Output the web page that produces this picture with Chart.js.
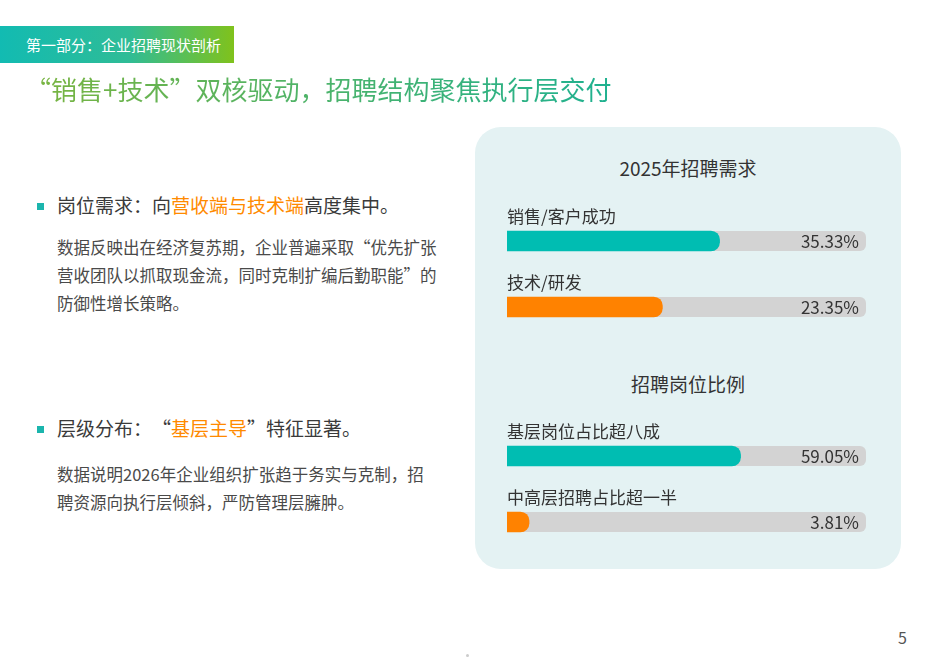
<!DOCTYPE html>
<html lang="zh-CN">
<head>
<meta charset="utf-8">
<script src="https://cdn.jsdelivr.net/npm/chart.js@4.4.1/dist/chart.umd.min.js"></script>
<style>
  html, body { margin: 0; padding: 0; background: #ffffff; }
  body { width: 936px; height: 662px; position: relative; overflow: hidden;
         font-family: "Noto Sans CJK SC", "Noto Sans", sans-serif; color: #333;
         text-spacing-trim: space-all; }
  .tag { position: absolute; left: 0; top: 26px; width: 234px; height: 37px;
         background: linear-gradient(90deg, #12bbb2 0%, #2fbc96 55%, #80c21c 100%);
         color: #fff; font-size: 15px; line-height: 37px; padding-left: 26px; box-sizing: border-box; white-space: nowrap; }
  .title { position: absolute; left: 25px; top: 70px; font-size: 26px; line-height: 38px; white-space: nowrap;
           background: linear-gradient(90deg, #7ab43f 0%, #4db36a 50%, #1fb190 100%);
           -webkit-background-clip: text; background-clip: text; color: transparent; }
  .bullet { position: absolute; left: 37px; width: 7px; height: 7px; background: #1bb5ad; }
  .head { position: absolute; left: 57px; font-size: 19px; line-height: 26px; color: #3a3a3a; white-space: nowrap; }
  .hl { color: #ff8a00; }
  .para { position: absolute; left: 57px; font-size: 16.5px; line-height: 28px; color: #4a4a4a; white-space: nowrap; }
  .panel { position: absolute; left: 475px; top: 127px; width: 426px; height: 442px;
           background: #e4f2f3; border-radius: 26px; }
  .ctitle { position: absolute; left: 0; width: 426px; text-align: center; font-size: 19px; line-height: 26px; color: #333; }
  canvas.c { position: absolute; left: 0; }
  .page { position: absolute; left: 898px; top: 625px; font-size: 16px; color: #555; }
  .dot { position: absolute; left: 466px; top: 654px; width: 3px; height: 3px; border-radius: 2px; background: #ccc; }
</style>
</head>
<body>
<div class="tag">第一部分：企业招聘现状剖析</div>
<div class="title">“销售+技术”双核驱动，招聘结构聚焦执行层交付</div>

<div class="bullet" style="top:203px"></div>
<div class="head" style="top:192px">岗位需求：向<span class="hl">营收端与技术端</span>高度集中。</div>
<div class="para" style="top:233px">数据反映出在经济复苏期，企业普遍采取“优先扩张<br>营收团队以抓取现金流，同时克制扩编后勤职能”的<br>防御性增长策略。</div>

<div class="bullet" style="top:426px"></div>
<div class="head" style="top:415px">层级分布：“<span class="hl">基层主导</span>”特征显著。</div>
<div class="para" style="top:460px">数据说明2026年企业组织扩张趋于务实与克制，招<br>聘资源向执行层倾斜，严防管理层臃肿。</div>

<div class="panel">
  <div class="ctitle" style="top:28px">2025年招聘需求</div>
  <canvas class="c" id="c1" width="426" height="150" style="top:73px;width:426px;height:150px"></canvas>
  <div class="ctitle" style="top:244px">招聘岗位比例</div>
  <canvas class="c" id="c2" width="426" height="150" style="top:288px;width:426px;height:150px"></canvas>
</div>

<div class="page">5</div>
<div class="dot"></div>

<script>
// ---- data ----
const demandCategories = ["销售/客户成功", "技术/研发"];
const demandValues = [35.33, 23.35];
const levelCategories = ["基层岗位占比超八成", "中高层招聘占比超一半"];
const levelValues = [59.05, 3.81];
const barColors = ["#00bdb2", "#ff8200"];

// axis ranges matching the reference's bar lengths
const demandAxis = { min: -9.2, max: 66 };
const levelAxis = { min: -1.95, max: 91.8 };

function roundRect(ctx, x, y, w, h, r) {
  ctx.beginPath();
  ctx.moveTo(x + r, y);
  ctx.lineTo(x + w - r, y);
  ctx.arcTo(x + w, y, x + w, y + r, r);
  ctx.lineTo(x + w, y + h - r);
  ctx.arcTo(x + w, y + h, x + w - r, y + h, r);
  ctx.lineTo(x + r, y + h);
  ctx.arcTo(x, y + h, x, y + h - r, r);
  ctx.lineTo(x, y + r);
  ctx.arcTo(x, y, x + r, y, r);
  ctx.closePath();
}

const trackAndLabels = {
  id: 'trackAndLabels',
  beforeDatasetsDraw(chart) {
    const ctx = chart.ctx, area = chart.chartArea;
    const meta = chart.getDatasetMeta(0);
    ctx.save();
    ctx.fillStyle = '#d3d3d3';
    meta.data.forEach(bar => {
      const h = bar.height;
      roundRect(ctx, area.left, bar.y - h / 2, area.right - area.left, h, 6);
      ctx.fill();
    });
    ctx.restore();
  },
  afterDatasetsDraw(chart) {
    const ctx = chart.ctx, area = chart.chartArea;
    const meta = chart.getDatasetMeta(0);
    const ds = chart.data.datasets[0];
    ctx.save();
    ctx.font = '17px "Noto Sans CJK SC", "Noto Sans", sans-serif';
    ctx.fillStyle = '#333333';
    ctx.textBaseline = 'middle';
    meta.data.forEach((bar, i) => {
      const h = bar.height;
      ctx.textAlign = 'left';
      ctx.fillText(chart.data.labels[i], area.left, bar.y - h / 2 - 14);
      ctx.textAlign = 'right';
      ctx.fillText(ds.data[i].toFixed(2) + '%', area.right - 7, bar.y + 1);
    });
    ctx.restore();
  }
};

function makeChart(id, labels, values, axis) {
  return new Chart(document.getElementById(id), {
    type: 'bar',
    data: {
      labels: labels,
      datasets: [{
        data: values,
        backgroundColor: barColors,
        base: axis.min,
        barThickness: 20,
        borderRadius: 9,
        borderSkipped: 'start'
      }]
    },
    options: {
      indexAxis: 'y',
      responsive: false,
      animation: false,
      layout: { padding: { left: 32, right: 35, top: 8, bottom: 10 } },
      scales: {
        x: { display: false, min: axis.min, max: axis.max },
        y: { display: false }
      },
      plugins: { legend: { display: false }, tooltip: { enabled: false }, title: { display: false } }
    },
    plugins: [trackAndLabels]
  });
}

makeChart('c1', demandCategories, demandValues, demandAxis);
makeChart('c2', levelCategories, levelValues, levelAxis);
</script>
</body>
</html>
